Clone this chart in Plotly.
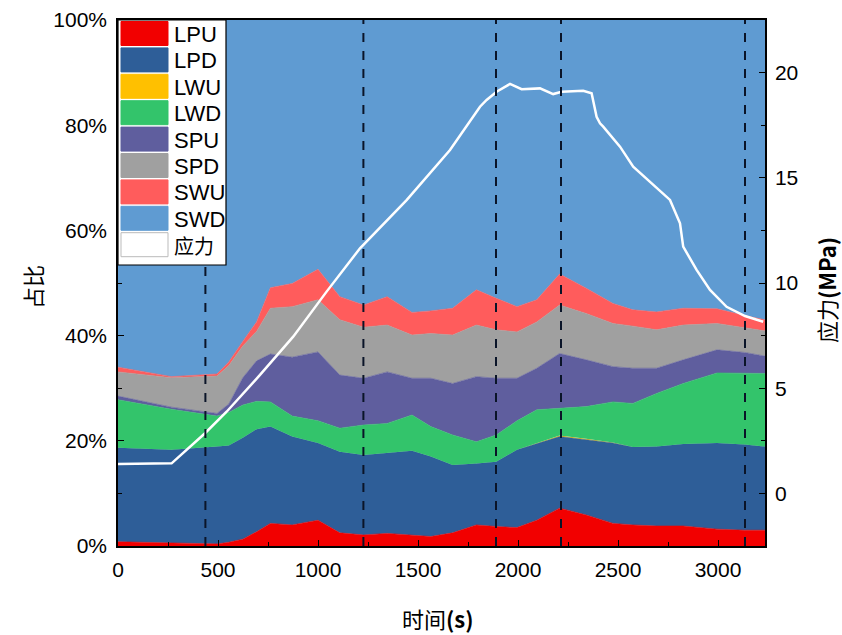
import plotly.graph_objects as go

# Sampling times (s) of the composition fractions
time_s = [0, 267, 495, 554, 624, 693, 762, 871, 1000, 1109, 1228, 1346, 1470, 1564,
          1673, 1792, 1891, 1995, 2094, 2208, 2341, 2475, 2574, 2693, 2826, 2995, 3133, 3235]

# Share (%) of each category at every sampling time
lpu = [0.8, 0.6, 0.4, 0.7, 1.3, 2.7, 4.3, 4.0, 4.9, 2.5, 2.1, 2.4, 2.1, 1.8,
       2.5, 4.0, 3.7, 3.5, 4.9, 7.2, 5.9, 4.3, 4.0, 3.8, 3.8, 3.2, 3.0, 3.0]
lpd = [17.9, 17.7, 18.5, 18.4, 19.3, 19.5, 18.4, 16.8, 14.7, 15.4, 15.2, 15.3, 16.0, 15.2,
       12.9, 11.7, 12.3, 14.8, 14.6, 13.6, 14.3, 15.3, 14.8, 15.1, 15.6, 16.4, 16.3, 15.9]
lwu = [0, 0, 0, 0, 0, 0, 0, 0, 0, 0, 0, 0, 0, 0,
       0, 0, 0, 0, 0, 0.2, 0.2, 0.1, 0, 0, 0, 0, 0, 0]
lwd = [9.1, 7.7, 5.8, 6.3, 6.2, 5.3, 4.7, 3.9, 4.2, 4.5, 5.7, 5.6, 6.8, 5.7,
       5.7, 4.1, 5.1, 5.5, 6.4, 5.2, 6.1, 7.7, 8.3, 10.1, 11.5, 13.3, 13.6, 13.9]
spu = [0.7, 0.4, 0.5, 1.6, 5.2, 7.7, 9.1, 11.2, 13.1, 10.1, 8.9, 9.8, 7.0, 9.2,
       9.8, 12.4, 10.8, 8.1, 7.9, 10.4, 8.9, 6.7, 6.7, 4.8, 4.5, 4.4, 3.9, 3.3]
spd = [4.6, 5.6, 7.1, 7.3, 6.0, 5.6, 8.7, 9.6, 9.9, 10.5, 9.7, 8.9, 8.2, 8.5,
       9.2, 9.8, 9.2, 8.8, 8.8, 9.2, 8.8, 8.2, 8.0, 7.3, 6.6, 5.0, 4.7, 4.8]
swu = [0.9, 0.2, 0.4, 0.7, 0.9, 1.8, 3.9, 4.4, 5.8, 4.4, 4.2, 5.4, 4.3, 4.3,
       5.1, 6.7, 6.0, 4.8, 4.2, 5.9, 4.8, 3.8, 3.1, 3.4, 3.2, 2.8, 2.3, 2.1]
swd = [66.0, 67.8, 67.3, 65.0, 61.1, 57.4, 50.9, 50.1, 47.4, 52.6, 54.2, 52.6, 55.6, 55.3,
       54.8, 51.3, 52.9, 54.5, 53.2, 48.3, 51.0, 53.9, 55.1, 55.5, 54.8, 54.9, 56.2, 57.0]

series_names = ["LPU", "LPD", "LWU", "LWD", "SPU", "SPD", "SWU", "SWD"]
series_colors = ["#F20000", "#2E5E98", "#FFC000", "#33C46B", "#5F5E9E", "#A0A0A0", "#FF5C5C", "#5F9BD2"]

# Stress record (MPa)
stress_time = [0, 268, 435, 543, 710, 876, 1043, 1210, 1443, 1560, 1660, 1810, 1843,
               1893, 1960, 2018, 2110, 2176, 2218, 2326, 2368, 2393, 2410, 2426, 2510,
               2576, 2676, 2760, 2810, 2826, 2893, 2960, 3043, 3135, 3226]
stress_mpa = [1.40, 1.43, 2.86, 3.88, 5.63, 7.45, 9.59, 11.65, 13.94, 15.20, 16.32,
              18.38, 18.70, 19.09, 19.46, 19.21, 19.25, 18.98, 19.09, 19.14, 19.02, 17.90,
              17.59, 17.43, 16.48, 15.53, 14.66, 13.95, 12.84, 11.73, 10.62, 9.67, 8.87,
              8.43, 8.16]

# Stage boundaries (s)
event_times = [437, 1227, 1890, 2215, 3135]

pct_ticks = [0, 20, 40, 60, 80, 100]
pct_labels = [f"{v}%" for v in pct_ticks]

values = [lpu, lpd, lwu, lwd, spu, spd, swu, swd]

FONT = "Arial, 'Liberation Sans', 'Noto Sans CJK SC', sans-serif"
CJK = "'Noto Sans CJK SC', sans-serif"

fig = go.Figure()
for name, color, vals in zip(series_names, series_colors, values):
    fig.add_trace(go.Scatter(
        x=time_s, y=vals, name=name, mode="lines", stackgroup="one",
        fillcolor=color,
        line=dict(color=color, width=0 if name == "LWU" else 0.6),
        showlegend=False, hoverinfo="skip",
    ))

fig.add_trace(go.Scatter(
    x=stress_time, y=stress_mpa, name="应力", mode="lines", yaxis="y2",
    line=dict(color="white", width=2.5),
    showlegend=False,
))

for t in event_times:
    fig.add_shape(type="line", x0=t, x1=t, xref="x", y0=0, y1=1, yref="paper",
                  line=dict(color="#0A1428", width=2, dash="dash"), layer="above")

# Legend panel
plot_h = 526.0
plot_w = 647.0
def py(px_from_top):
    return 1 - (px_from_top - 20) / plot_h

def px(px_from_left):
    return (px_from_left - 118) / plot_w

fig.add_shape(type="rect", xref="paper", yref="paper",
              x0=0, x1=px(226), y0=py(265), y1=1,
              fillcolor="white", line=dict(color="black", width=1.2), layer="above")
legend_names = series_names + ["应力"]
legend_colors = series_colors + ["white"]
for i, (nm, col) in enumerate(zip(legend_names, legend_colors)):
    cy = 33.5 + i * 26.4
    fig.add_shape(type="rect", xref="paper", yref="paper",
                  x0=px(121), x1=px(168), y0=py(cy + 12), y1=py(cy - 12),
                  fillcolor=col,
                  line=dict(color="#BBBBBB" if col == "white" else col, width=1),
                  layer="above")
    fig.add_annotation(xref="paper", yref="paper", x=px(172), y=py(cy + 1),
                       text=nm, showarrow=False, xanchor="left", yanchor="middle",
                       font=dict(family=FONT if i < 8 else CJK, size=22 if i < 8 else 20,
                                 color="black"))

# Axis titles
fig.add_annotation(xref="paper", yref="paper", x=px(438), y=py(618),
                   text="时间<b>(s)</b>", showarrow=False, xanchor="center", yanchor="middle",
                   font=dict(family=CJK, size=22, color="black"))
fig.add_annotation(xref="paper", yref="paper", x=px(32), y=py(287),
                   text="占比", showarrow=False, textangle=-90, xanchor="center", yanchor="middle",
                   font=dict(family=CJK, size=22, color="black"))
fig.add_annotation(xref="paper", yref="paper", x=px(826), y=py(290),
                   text="应力<b>(MPa)</b>", showarrow=False, textangle=-90,
                   xanchor="center", yanchor="middle",
                   font=dict(family=CJK, size=22, color="black"))

fig.update_layout(
    width=842, height=635,
    margin=dict(l=118, r=77, t=20, b=89, autoexpand=False),
    paper_bgcolor="white", plot_bgcolor="white",
    font=dict(family=FONT, size=21, color="black"),
    showlegend=False,
    xaxis=dict(
        range=[0, 3235], tickvals=[0, 500, 1000, 1500, 2000, 2500, 3000],
        ticks="inside", ticklen=6, tickcolor="black", tickwidth=1.2,
        minor=dict(dtick=250, ticks="inside", ticklen=4, tickcolor="black"),
        showline=True, linecolor="black", linewidth=1.5, mirror=True,
        showgrid=False, zeroline=False, automargin=False,
        tickfont=dict(size=21), ticklabelstandoff=4,
    ),
    yaxis=dict(
        range=[0, 100], tickmode="array", tickvals=pct_ticks, ticktext=pct_labels,
        ticks="inside", ticklen=6, tickcolor="black", tickwidth=1.2,
        minor=dict(dtick=10, ticks="inside", ticklen=4, tickcolor="black"),
        showline=True, linecolor="black", linewidth=1.5,
        showgrid=False, zeroline=False, automargin=False,
        tickfont=dict(size=21), ticklabelstandoff=5,
    ),
    yaxis2=dict(
        overlaying="y", side="right", range=[-2.5, 22.5],
        tickvals=[0, 5, 10, 15, 20],
        ticks="inside", ticklen=6, tickcolor="black", tickwidth=1.2,
        minor=dict(dtick=2.5, ticks="inside", ticklen=4, tickcolor="black"),
        showline=True, linecolor="black", linewidth=1.5,
        showgrid=False, zeroline=False, automargin=False,
        tickfont=dict(size=21), ticklabelstandoff=4,
    ),
)

fig.write_html("out.html")
